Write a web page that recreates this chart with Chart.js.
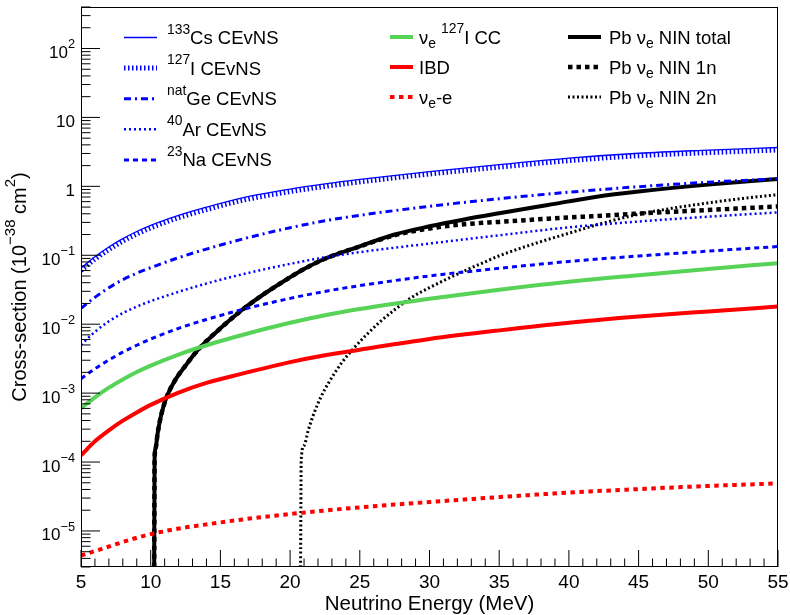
<!DOCTYPE html>
<html>
<head>
<meta charset="utf-8">
<script src="https://cdn.jsdelivr.net/npm/chart.js@4.4.1/dist/chart.umd.min.js"></script>
<style>
  body { margin: 0; background: #fff; }
  #wrap { width: 790px; height: 615px; }
</style>
</head>
<body>
<div id="wrap"><canvas id="xsec" width="790" height="615"></canvas></div>
<script>
const FONT = "'Liberation Sans', Arial, Helvetica, sans-serif";

// coherent scattering + CC + IBD energy grid (MeV), cross-sections in 1e-38 cm^2
const eGrid = [5, 6, 7, 8, 9, 10, 12, 14, 16.5, 20, 22.5, 25, 30, 35, 40, 45, 50, 55];
const csCevns = [0.065, 0.0955, 0.132, 0.174, 0.221, 0.272, 0.38, 0.5, 0.676, 0.912, 1.084, 1.259, 1.64, 2.07, 2.57, 3.02, 3.35, 3.66];
const iCevns = [0.06, 0.088, 0.121, 0.16, 0.203, 0.25, 0.35, 0.46, 0.622, 0.839, 0.997, 1.158, 1.51, 1.9, 2.36, 2.78, 3.08, 3.37];
const geCevns = [0.017, 0.0245, 0.0339, 0.0442, 0.055, 0.066, 0.0923, 0.123, 0.17, 0.251, 0.316, 0.38, 0.513, 0.661, 0.822, 0.989, 1.148, 1.288];
const arCevns = [0.005, 0.00776, 0.011, 0.0145, 0.018, 0.0216, 0.0295, 0.0389, 0.0525, 0.075, 0.0933, 0.111, 0.148, 0.195, 0.254, 0.309, 0.363, 0.419];
const naCevns = [0.00162, 0.00226, 0.00302, 0.00394, 0.00495, 0.0061, 0.0087, 0.0117, 0.0162, 0.0237, 0.0299, 0.0363, 0.0501, 0.0646, 0.0813, 0.0977, 0.1148, 0.134];
const iodineCC = [6.03e-4, 8.7e-4, 1.2e-3, 1.58e-3, 2.02e-3, 2.51e-3, 3.63e-3, 4.95e-3, 6.92e-3, 0.01047, 0.0135, 0.0166, 0.0234, 0.0316, 0.0412, 0.0513, 0.0631, 0.0769];
const ibd = [1.25e-4, 2.0e-4, 2.88e-4, 3.98e-4, 5.25e-4, 6.76e-4, 1.02e-3, 1.41e-3, 1.9e-3, 2.82e-3, 3.55e-3, 4.27e-3, 6.1e-3, 8.13e-3, 1.05e-2, 1.29e-2, 1.53e-2, 1.8e-2];

// electron scattering
const eES = [5, 10, 15, 20, 25, 30, 35, 40, 45, 50, 55];
const nueElectron = [4.4e-6, 9.0e-6, 1.33e-5, 1.76e-5, 2.2e-5, 2.63e-5, 3.1e-5, 3.6e-5, 4.05e-5, 4.5e-5, 4.9e-5];

// lead neutrino-induced neutrons (thresholds ~10.3 and ~20.8 MeV)
const ePbTotal = [10.25, 10.28, 10.35, 10.5, 10.75, 11.1, 11.7, 12.5, 13.4, 15, 16.5, 18, 19.6, 21, 22.5, 25, 27.5, 30, 32.5, 35, 38.5, 42, 45, 50, 55];
const pbTotal = [3e-6, 1.1e-4, 1.58e-4, 2.63e-4, 4.79e-4, 8.32e-4, 1.48e-3, 2.51e-3, 4.27e-3, 8.71e-3, 0.0158, 0.0263, 0.0427, 0.0631, 0.0891, 0.135, 0.2, 0.263, 0.331, 0.407, 0.537, 0.708, 0.841, 1.059, 1.282];
const ePb1n = [10.25, 10.28, 10.35, 10.5, 10.75, 11.1, 11.7, 12.5, 13.4, 15, 16.5, 18, 19.6, 21, 22.5, 25, 27.5, 30, 32.5, 35, 38.5, 42, 45, 48.5, 52, 55];
const pb1n = [3e-6, 1.1e-4, 1.58e-4, 2.63e-4, 4.79e-4, 8.32e-4, 1.48e-3, 2.51e-3, 4.27e-3, 8.71e-3, 0.0158, 0.0263, 0.0427, 0.0631, 0.0891, 0.134, 0.195, 0.245, 0.282, 0.305, 0.339, 0.372, 0.403, 0.439, 0.476, 0.51];
const ePb2n = [20.75, 20.8, 21.0, 21.3, 21.7, 22.2, 22.85, 23.7, 24.65, 25.5, 26.4, 27.5, 28.8, 30, 31.2, 32.7, 34, 35.1, 36.5, 38, 40, 42.5, 45, 47.5, 50, 52.5, 55];
const pb2n = [3e-6, 1.1e-4, 1.74e-4, 2.88e-4, 5.01e-4, 8.71e-4, 1.51e-3, 2.75e-3, 4.68e-3, 7.08e-3, 0.0106, 0.0162, 0.0251, 0.0339, 0.0447, 0.0617, 0.0804, 0.1, 0.126, 0.158, 0.209, 0.295, 0.394, 0.484, 0.575, 0.668, 0.759];

const X_MIN = 5, X_MAX = 55;
const Y_MIN = 3e-6, Y_MAX = 400;

const BLUE = '#0000ff', GREEN = '#57d357', RED = '#ff0000', BLACK = '#000000';

function pts(xs, ys) {
  return xs.map((x, i) => ({ x: x, y: ys[i] }));
}

// label strings use ^{..} and _{..} for super/subscripts; legend slot = [column, row]
function series(label, xs, ys, color, width, dash, slot) {
  return {
    label: label,
    data: pts(xs, ys),
    borderColor: color,
    borderWidth: width,
    borderDash: dash,
    pointRadius: 0,
    fill: false,
    cubicInterpolationMode: 'monotone',
    slot: slot,
  };
}

const datasets = [
  series('^{133}Cs CEvNS', eGrid, csCevns, BLUE, 1.3, [], [0, 0]),
  series('^{127}I CEvNS', eGrid, iCevns, BLUE, 5, [1.5, 2.5], [0, 1]),
  series('^{nat}Ge CEvNS', eGrid, geCevns, BLUE, 3, [7, 4, 2, 4], [0, 2]),
  series('^{40}Ar CEvNS', eGrid, arCevns, BLUE, 2.5, [2, 3], [0, 3]),
  series('^{23}Na CEvNS', eGrid, naCevns, BLUE, 3, [5, 4], [0, 4]),
  series('ν_{e} ^{127}I CC', eGrid, iodineCC, GREEN, 4, [], [1, 0]),
  series('IBD', eGrid, ibd, RED, 4, [], [1, 1]),
  series('ν_{e}-e', eES, nueElectron, RED, 4, [4.5, 4.5], [1, 2]),
  series('Pb ν_{e} NIN total', ePbTotal, pbTotal, BLACK, 4, [], [2, 0]),
  series('Pb ν_{e} NIN 1n', ePb1n, pb1n, BLACK, 4.5, [4.5, 4], [2, 1]),
  series('Pb ν_{e} NIN 2n', ePb2n, pb2n, BLACK, 3, [2, 2.5], [2, 2]),
];

function parseLatex(str) {
  const out = [];
  const re = /([\^_])\{([^}]*)\}|([^\^_]+)/g;
  let m;
  while ((m = re.exec(str))) {
    if (m[3]) out.push({ t: m[3], s: 0 });
    else out.push({ t: m[2], s: m[1] === '^' ? 1 : -1 });
  }
  return out;
}

function drawLatex(ctx, str, x, y, size, align) {
  const segs = parseLatex(str);
  const small = size * 0.75;
  let w = 0;
  segs.forEach((sg) => {
    ctx.font = (sg.s ? small : size) + 'px ' + FONT;
    sg.w = ctx.measureText(sg.t).width;
    w += sg.w;
  });
  let cx = align === 'right' ? x - w : align === 'center' ? x - w / 2 : x;
  ctx.textAlign = 'left';
  ctx.textBaseline = 'alphabetic';
  segs.forEach((sg) => {
    ctx.font = (sg.s ? small : size) + 'px ' + FONT;
    const dy = sg.s === 1 ? -size * 0.56 : sg.s === -1 ? size * 0.27 : 0;
    ctx.fillText(sg.t, cx, y + dy);
    cx += sg.w;
  });
}

// ROOT-like frame: inward ticks, labels, titles and a three-column legend
const rootFrame = {
  id: 'rootFrame',
  afterDatasetsDraw(chart) {
    const ctx = chart.ctx;
    const a = chart.chartArea;
    const xs = chart.scales.x;
    const ys = chart.scales.y;
    ctx.save();
    ctx.fillStyle = '#000';
    ctx.strokeStyle = '#000';
    ctx.lineWidth = 1;
    ctx.setLineDash([]);

    // frame
    ctx.strokeRect(a.left + 0.5, a.top + 0.5, a.right - a.left - 1, a.bottom - a.top - 1);

    // x ticks
    ctx.beginPath();
    for (let v = X_MIN; v <= X_MAX; v++) {
      const px = xs.getPixelForValue(v);
      const len = v % 5 === 0 ? 17 : 8.5;
      ctx.moveTo(px, a.bottom);
      ctx.lineTo(px, a.bottom - len);
    }
    // y ticks
    for (let e = -6; e <= 2; e++) {
      for (let m = 1; m <= 9; m++) {
        const v = m * Math.pow(10, e);
        if (v < Y_MIN || v > Y_MAX) continue;
        const py = ys.getPixelForValue(v);
        const len = m === 1 ? 19 : 9.5;
        ctx.moveTo(a.left, py);
        ctx.lineTo(a.left + len, py);
      }
    }
    ctx.stroke();

    // tick labels
    for (let v = X_MIN; v <= X_MAX; v += 5) {
      drawLatex(ctx, String(v), xs.getPixelForValue(v), a.bottom + 21, 19, 'center');
    }
    for (let e = -5; e <= 2; e++) {
      const py = ys.getPixelForValue(Math.pow(10, e));
      let txt;
      if (e === 0) txt = '1';
      else if (e === 1) txt = '10';
      else txt = '10^{' + (e < 0 ? '−' + (-e) : e) + '}';
      drawLatex(ctx, txt, 75, py + 9.5, 17, 'right');
    }

    // axis titles
    drawLatex(ctx, 'Neutrino Energy (MeV)', (a.left + a.right) / 2, 610, 20.5, 'center');
    ctx.save();
    ctx.translate(26, (a.top + a.bottom) / 2);
    ctx.rotate(-Math.PI / 2);
    drawLatex(ctx, 'Cross-section (10^{−38} cm^{2})', 0, 0, 20, 'center');
    ctx.restore();

    // legend
    const cols = [
      { x0: 124, x1: 157, tx: 167, y0: 44, dy: 30.6 },
      { x0: 390, x1: 413, tx: 419, y0: 43.5, dy: 30 },
      { x0: 568, x1: 601, tx: 609, y0: 43.5, dy: 30 },
    ];
    chart.data.datasets.forEach((ds) => {
      const c = cols[ds.slot[0]];
      const base = c.y0 + c.dy * ds.slot[1];
      const ly = base - 6.5;
      ctx.save();
      ctx.strokeStyle = ds.borderColor;
      ctx.lineWidth = ds.borderWidth;
      ctx.setLineDash(ds.borderDash);
      ctx.beginPath();
      ctx.moveTo(c.x0, ly);
      ctx.lineTo(c.x1, ly);
      ctx.stroke();
      ctx.restore();
      ctx.fillStyle = '#000';
      drawLatex(ctx, ds.label, c.tx, base, 18.5, 'left');
    });
    ctx.restore();
  },
};

new Chart(document.getElementById('xsec'), {
  type: 'line',
  data: { datasets: datasets },
  options: {
    responsive: false,
    animation: false,
    devicePixelRatio: 1,
    layout: { padding: { left: 81, right: 12, top: 7, bottom: 48 } },
    plugins: {
      legend: { display: false },
      tooltip: { enabled: false },
    },
    scales: {
      x: {
        type: 'linear',
        min: X_MIN,
        max: X_MAX,
        grid: { display: false },
        border: { display: false },
        ticks: { display: false },
        afterFit: (s) => { s.height = 0; },
      },
      y: {
        type: 'logarithmic',
        min: Y_MIN,
        max: Y_MAX,
        grid: { display: false },
        border: { display: false },
        ticks: { display: false },
        afterFit: (s) => { s.width = 0; },
      },
    },
  },
  plugins: [rootFrame],
});
</script>
</body>
</html>
